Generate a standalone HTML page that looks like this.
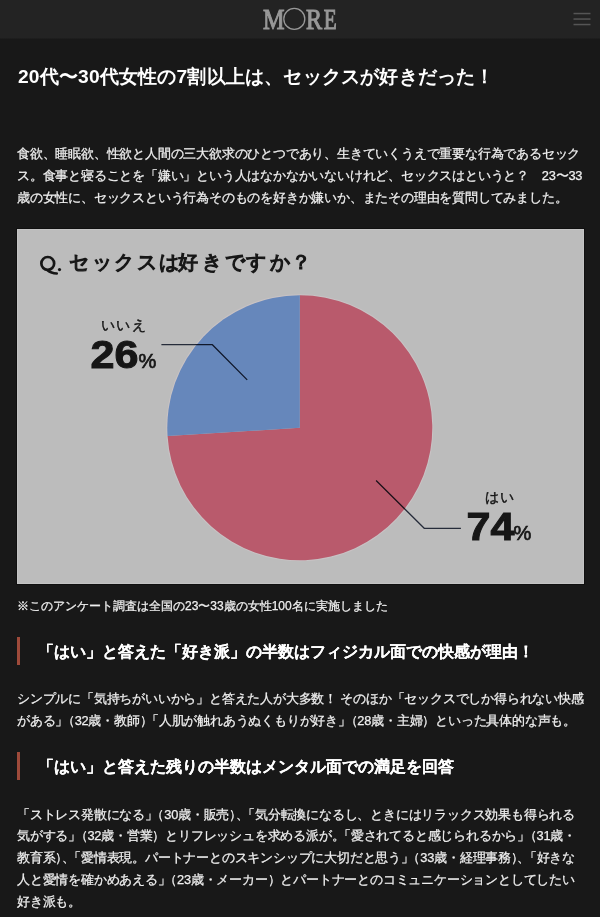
<!DOCTYPE html>
<html><head><meta charset="utf-8">
<style>
html,body{margin:0;padding:0;}
body{width:600px;height:917px;overflow:hidden;background:#181818;color:#f0f0f0;font-family:"Liberation Sans",sans-serif;position:relative;}
.hdr{position:absolute;left:0;top:0;width:600px;height:40px;background:linear-gradient(to bottom,#232323 0,#232323 37.5px,#181818 39.5px);}
.ln{position:absolute;white-space:nowrap;line-height:1;will-change:transform;}
.p{font-size:12.8px;left:17px;letter-spacing:-0.2px;-webkit-text-stroke:0.25px #f0f0f0;}
.h{font-size:16px;font-weight:bold;left:38px;color:#fff;-webkit-text-stroke:0.05px #fff;}
.tr{margin-right:-6.4px;}
.bar{position:absolute;left:17px;width:3px;height:28px;background:#9e4a3a;}
.chart{position:absolute;left:17px;top:229px;width:567px;height:355px;background:#bcbcbc;overflow:hidden;box-shadow:0 0 0 1px #101010, inset 0 0 0 1px #c4c4c4;}
</style></head><body>
<div class="hdr"><svg width="600" height="38" viewBox="0 0 600 38" style="position:absolute;left:0;top:0;will-change:transform">
<g fill="#989898" stroke="#989898" stroke-width="1.1" font-family="Liberation Serif">
<text transform="translate(263 28.8) scale(0.82 1)" font-size="29.5">M</text>
<text transform="translate(306 28.8) scale(0.82 1)" font-size="29.5">R</text>
<text transform="translate(323.8 28.8) scale(0.72 1)" font-size="29.5">E</text>
</g>
<circle cx="294.3" cy="18.9" r="10.5" fill="none" stroke="#989898" stroke-width="1.3"/>
<g fill="#555">
<rect x="573.5" y="12.8" width="17" height="1.5"/>
<rect x="573.5" y="18.3" width="17" height="1.5"/>
<rect x="573.5" y="23.8" width="17" height="1.5"/>
</g>
</svg></div>
<div class="ln" style="left:18px;top:66.5px;font-size:19.2px;font-weight:bold;color:#fff;letter-spacing:0.19px;-webkit-text-stroke:0px #fff">20代〜30代女性の7割以上は、セックスが好きだった！</div>

<div class="ln p" style="top:148px">食欲、睡眠欲、性欲と人間の三大欲求のひとつであり、生きていくうえで重要な行為であるセック</div>
<div class="ln p" style="top:169.8px">ス。食事と寝ることを「嫌い」という人はなかなかいないけれど、セックスはというと？　23〜33</div>
<div class="ln p" style="top:191.5px">歳の女性に、セックスという行為そのものを好きか嫌いか、またその理由を質問してみました。</div>

<div class="chart"></div>
<svg style="position:absolute;left:0;top:0;will-change:transform" width="600" height="917" viewBox="0 0 600 917">
<circle cx="299.8" cy="427.75" r="132.9" fill="none" stroke="#c8c2c4" stroke-width="1.3"/>
<path d="M299.8 427.75 L299.8 295.25 A132.5 132.5 0 1 1 167.56 436.07 Z" fill="#b95a6c"/>
<path d="M299.8 427.75 L299.8 295.25 A132.5 132.5 0 0 0 167.56 436.07 Z" fill="#6687bb"/>
<g fill="none" stroke="#262c3a" stroke-width="1.3" stroke-linejoin="round" style="mix-blend-mode:multiply">
<polyline points="161.4,344.7 212.4,344.7 247.2,379.9"/>
<polyline points="376.1,480.5 424.2,528.3 460.9,528.3"/>
</g>
<g font-family="Liberation Sans" fill="#161616">
<circle cx="47.75" cy="263.4" r="6.4" fill="none" stroke="#161616" stroke-width="2.7"/><path d="M47.5 270.2 Q51 273.3 56.8 273.4" fill="none" stroke="#161616" stroke-width="2.5" stroke-linecap="round"/><circle cx="59.5" cy="269.6" r="1.6" fill="#161616"/>
<text y="269" font-size="20" stroke="#161616" stroke-width="1.2" x="69 91.5 114 136.5 159.4 177.5 202.4 224.8 246 270 290.5">セックスは好きですか？</text>
<text y="329.8" font-size="14" stroke="#161616" stroke-width="0.45" x="100.5 116 132">いいえ</text>
<text y="502" font-size="14" stroke="#161616" stroke-width="0.45" x="484.5 499.5">はい</text>
<text transform="translate(90.5 367.7) scale(1.12 1)" font-size="38.5" font-weight="bold" stroke="#161616" stroke-width="1">26</text>
<text y="367.7" x="138.5" font-size="20" stroke="#161616" stroke-width="0.7">%</text>
<text transform="translate(466.5 540) scale(1.12 1)" font-size="38.5" font-weight="bold" stroke="#161616" stroke-width="1">74</text>
<text y="540" x="513.5" font-size="20" stroke="#161616" stroke-width="0.7">%</text>
</g>
</svg>


<div class="ln" style="left:17px;top:600px;font-size:12px;-webkit-text-stroke:0.25px #f0f0f0">※このアンケート調査は全国の23〜33歳の女性100名に実施しました</div>

<div class="bar" style="top:637px"></div>
<div class="ln h" style="top:644px">「はい」と答えた「好き派」の半数はフィジカル面での快感が理由！</div>

<div class="ln p" style="top:693px">シンプルに「気持ちがいいから」と答えた人が大多数！ そのほか「セックスでしか得られない快感</div>
<div class="ln p" style="top:715px">がある<span class="tr">」</span>（32歳・教師<span class="tr">）</span>「人肌が触れあうぬくもりが好き<span class="tr">」</span>（28歳・主婦）といった具体的な声も。</div>

<div class="bar" style="top:752px"></div>
<div class="ln h" style="top:759px">「はい」と答えた残りの半数はメンタル面での満足を回答</div>

<div class="ln p" style="top:808.60px">「ストレス発散になる<span class="tr">」</span>（30歳・販売<span class="tr">）</span><span class="tr">、</span>「気分転換になるし、ときにはリラックス効果も得られる</div>
<div class="ln p" style="top:830.36px">気がする<span class="tr">」</span>（32歳・営業）とリフレッシュを求める派が<span class="tr">。</span>「愛されてると感じられるから<span class="tr">」</span>（31歳・</div>
<div class="ln p" style="top:852.12px">教育系<span class="tr">）</span><span class="tr">、</span>「愛情表現。パートナーとのスキンシップに大切だと思う<span class="tr">」</span>（33歳・経理事務<span class="tr">）</span><span class="tr">、</span>「好きな</div>
<div class="ln p" style="top:873.88px">人と愛情を確かめあえる<span class="tr">」</span>（23歳・メーカー）とパートナーとのコミュニケーションとしてしたい</div>
<div class="ln p" style="top:895.64px">好き派も。</div>
</body></html>
